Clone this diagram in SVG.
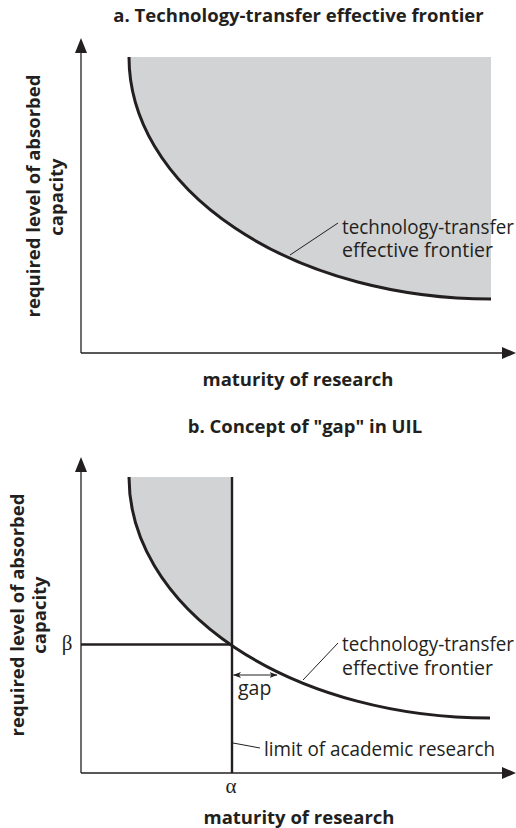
<svg xmlns="http://www.w3.org/2000/svg" width="516" height="828" viewBox="0 0 516 828">
  <style>
    .bg { fill: #ffffff; }
    .shade { fill: #d1d3d4; stroke: none; }
    .axis { stroke: #231f20; stroke-width: 1.3; fill: none; }
    .head { fill: #231f20; stroke: none; }
    .curve { stroke: #231f20; stroke-width: 3; fill: none; }
    .limit { stroke: #231f20; stroke-width: 2.4; fill: none; }
    .leader { stroke: #231f20; stroke-width: 1; fill: none; }
    .title { font-family: "Open Sans", "Liberation Sans", sans-serif; font-weight: 700; font-size: 18.5px; fill: #231f20; }
    .lbl { font-family: "Open Sans", "Liberation Sans", sans-serif; font-size: 19.5px; fill: #231f20; }
    .greek { font-family: "Liberation Serif", "DejaVu Serif", serif; font-size: 21px; fill: #231f20; }
  </style>
  <defs>
    <marker id="sm" viewBox="0 0 8 6" refX="7.5" refY="3" markerWidth="8" markerHeight="6" markerUnits="userSpaceOnUse" orient="auto-start-reverse">
      <path d="M0,0 L8,3 L0,6 L2,3 Z" fill="#231f20"/>
    </marker>
  </defs>
  <rect class="bg" x="0" y="0" width="516" height="828"/>

  <!-- Panel a -->
  <g id="panel-a">
    <text id="title-a" class="title" x="298.5" y="22" text-anchor="middle">a. Technology-transfer effective frontier</text>
    <path id="region-a" class="shade" d="M129,57 A362,242 0 0 0 491,299 L491,57 Z"/>
    <g id="y-axis-a">
      <line class="axis" x1="81" y1="52" x2="81" y2="353"/>
      <polygon class="head" points="81,38 75,53 87,53"/>
    </g>
    <g id="x-axis-a">
      <line class="axis" x1="81" y1="353" x2="503" y2="353"/>
      <polygon class="head" points="516,353 502,347 502,359"/>
    </g>
    <path id="frontier-a" class="curve" d="M129,57 A362,242 0 0 0 491,299"/>
    <g id="label-frontier-a">
      <text class="lbl" x="342" y="234" textLength="172" lengthAdjust="spacingAndGlyphs">technology-transfer</text>
      <text class="lbl" x="342" y="257">effective frontier</text>
    </g>
    <text id="xlabel-a" class="title" x="298" y="386" text-anchor="middle">maturity of research</text>
    <g id="ylabel-a">
      <text class="title" transform="translate(40,196) rotate(-90)" text-anchor="middle">required level of absorbed</text>
      <text class="title" transform="translate(63,197) rotate(-90)" text-anchor="middle">capacity</text>
    </g>
  </g>

  <!-- Panel b -->
  <g id="panel-b">
    <text id="title-b" class="title" x="305" y="433" text-anchor="middle">b. Concept of "gap" in UIL</text>
    <path id="region-b" class="shade" d="M129,477 A361,241 0 0 0 232,644.3 L232,477 Z"/>
    <g id="y-axis-b">
      <line class="axis" x1="81" y1="471" x2="81" y2="773"/>
      <polygon class="head" points="81,457 75,472 87,472"/>
    </g>
    <g id="x-axis-b">
      <line class="axis" x1="81" y1="773" x2="503" y2="773"/>
      <polygon class="head" points="516,773 502,767 502,779"/>
    </g>
    <line id="beta-line" class="limit" x1="81" y1="644.5" x2="232" y2="644.5"/>
    <line id="limit-line" class="limit" x1="232" y1="477" x2="232" y2="773"/>
    <path id="frontier-b" class="curve" d="M129,477 A361,241 0 0 0 490,718"/>
    <g id="label-frontier-b">
      <text class="lbl" x="342" y="651" textLength="172" lengthAdjust="spacingAndGlyphs">technology-transfer</text>
      <text class="lbl" x="342" y="675">effective frontier</text>
    </g>
    <text id="label-gap" class="lbl" x="238" y="695">gap</text>
    <text id="label-limit" class="lbl" x="264" y="756" textLength="231" lengthAdjust="spacingAndGlyphs">limit of academic research</text>
    <text id="beta" class="greek" x="67" y="650" text-anchor="middle">β</text>
    <text id="alpha" class="greek" x="231" y="793" text-anchor="middle">α</text>
    <text id="xlabel-b" class="title" x="299" y="824" text-anchor="middle">maturity of research</text>
    <g id="ylabel-b">
      <text class="title" transform="translate(24,615) rotate(-90)" text-anchor="middle">required level of absorbed</text>
      <text class="title" transform="translate(46,615) rotate(-90)" text-anchor="middle">capacity</text>
    </g>
  </g>

  <!-- Connectors -->
  <g id="connectors">
    <line id="leader-a" class="leader" x1="290" y1="255" x2="338" y2="223"/>
    <line id="leader-b" class="leader" x1="303" y1="680" x2="338" y2="643"/>
    <line id="leader-limit" class="leader" x1="233" y1="743" x2="260" y2="748"/>
    <line id="gap-arrow" class="leader" x1="233.5" y1="675" x2="277" y2="675" marker-start="url(#sm)" marker-end="url(#sm)"/>
  </g>
</svg>
